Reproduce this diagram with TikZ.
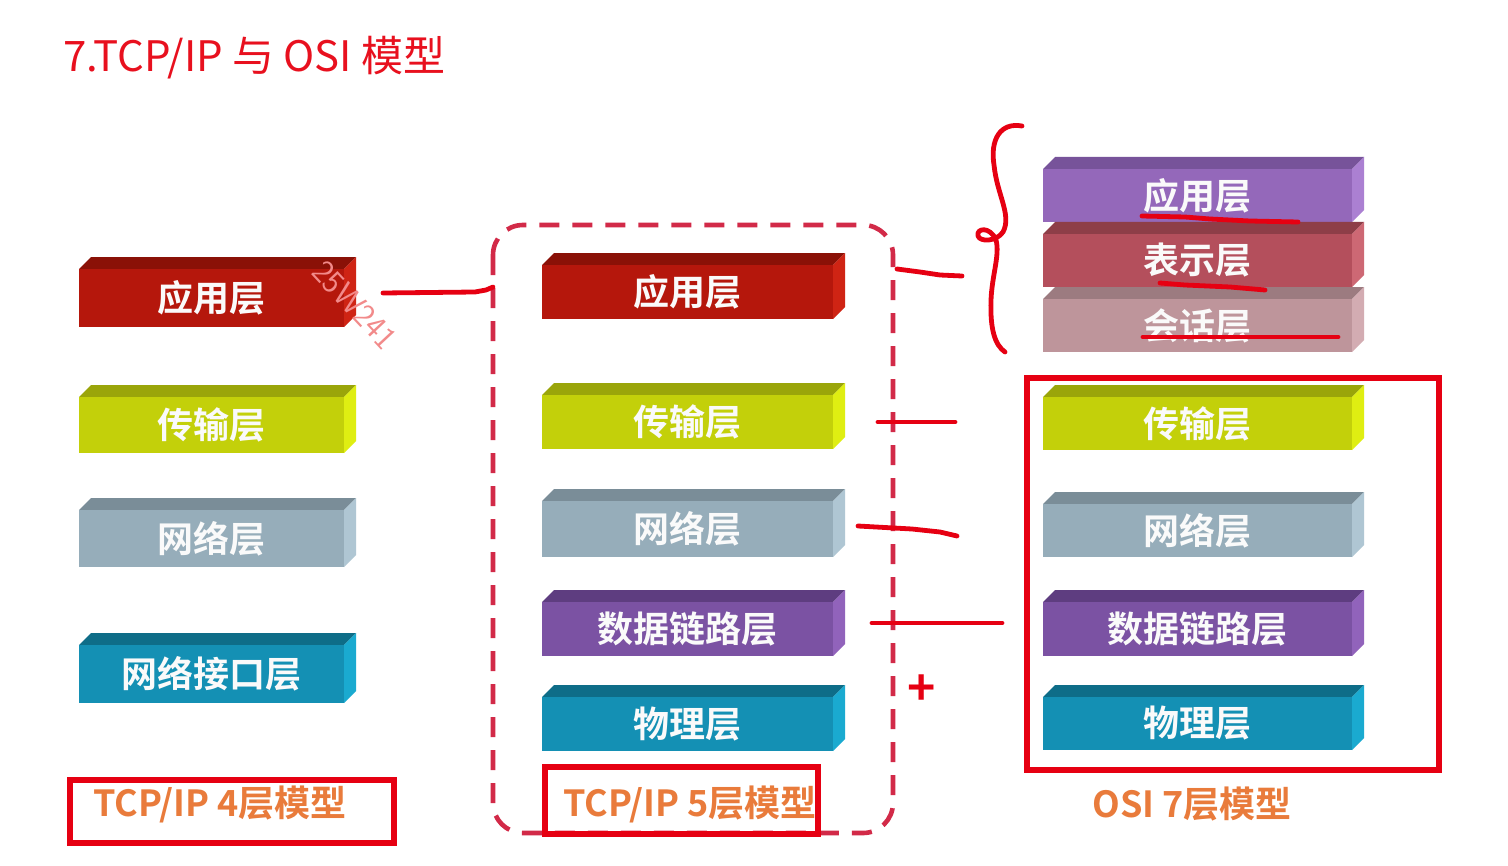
\documentclass[tikz,border=0pt]{standalone}
\usepackage{fontspec}
\newfontfamily\cjk{Noto Sans CJK SC}[BoldFont={Noto Sans CJK SC Bold}]
\definecolor{redF}{HTML}{B5170C}\definecolor{redT}{HTML}{8A1107}\definecolor{redS}{HTML}{CF2414}
\definecolor{ylF}{HTML}{C3D00A}\definecolor{ylT}{HTML}{9AA50A}\definecolor{ylS}{HTML}{DFEE12}
\definecolor{gyF}{HTML}{96ADBA}\definecolor{gyT}{HTML}{7A8D98}\definecolor{gyS}{HTML}{AFC6D3}
\definecolor{tlF}{HTML}{1490B4}\definecolor{tlT}{HTML}{0E6D88}\definecolor{tlS}{HTML}{1AAAD0}
\definecolor{puF}{HTML}{7B52A3}\definecolor{puT}{HTML}{5E3D80}\definecolor{puS}{HTML}{9163BB}
\definecolor{apF}{HTML}{9468BA}\definecolor{apT}{HTML}{77539A}\definecolor{apS}{HTML}{AB80D2}
\definecolor{prF}{HTML}{B44F5C}\definecolor{prT}{HTML}{8E3E48}\definecolor{prS}{HTML}{CD6874}
\definecolor{seF}{HTML}{BE959B}\definecolor{seT}{HTML}{9C7B80}\definecolor{seS}{HTML}{D3ACB2}
\definecolor{penred}{HTML}{E60012}
\definecolor{dashred}{HTML}{D22A48}
\definecolor{titlered}{HTML}{E8101E}
\definecolor{labelorange}{HTML}{E97B3B}
\definecolor{wmpink}{HTML}{F28A8A}
\newcommand\layerblk[7]{%
  \fill[#6T] (#2,#3+12) -- (#2+12,#3) -- (#4+12,#3) -- (#4,#3+12) -- cycle;
  \fill[#6S] (#4,#3+12) -- (#4+12,#3) -- (#4+12,#5-12) -- (#4,#5) -- cycle;
  \node[blockface, fill=#6F, minimum width={(#4-#2)*0.5pt}, minimum height={(#5-#3-12)*0.5pt}, anchor=north west] (#1) at (#2,#3+12) {#7};
}
\tikzset{
  blockface/.style={inner sep=0pt, outer sep=0pt, text=white!96!gray, font=\cjk\bfseries\fontsize{18pt}{20pt}\selectfont},
  modellabel/.style={inner sep=0pt, text=labelorange, font=\cjk\bfseries\fontsize{18pt}{20pt}\selectfont},
  redbox/.style={draw=penred, line width=3pt},
  dashbox/.style={draw=dashred, line width=2.3pt, dash pattern=on 10pt off 6.5pt, rounded corners=15pt},
  hand/.style={draw=penred, line width=2.4pt, line cap=round, line join=round},
}
\begin{document}
\begin{tikzpicture}[x=0.5pt, y=-0.5pt]
\useasboundingbox[fill=white] (0,0) rectangle (1508,866);

% title
\node[anchor=west, inner sep=0pt, text=titlered, font=\cjk\fontsize{21pt}{24pt}\selectfont] (title) at (63,58) {7.TCP/IP 与 OSI 模型};

% left column: TCP/IP 4
\layerblk{L1}{79}{257}{344}{327}{red}{应用层}
\layerblk{L2}{79}{385}{344}{453}{yl}{传输层}
\layerblk{L3}{79}{498}{344}{567}{gy}{网络层}
\layerblk{L4}{79}{633}{344}{703}{tl}{网络接口层}

% middle column: TCP/IP 5
\layerblk{M1}{542}{253}{833}{319}{red}{应用层}
\layerblk{M2}{542}{383}{833}{449}{yl}{传输层}
\layerblk{M3}{542}{489}{833}{557}{gy}{网络层}
\layerblk{M4}{542}{590}{833}{656}{pu}{数据链路层}
\layerblk{M5}{542}{685}{833}{751}{tl}{物理层}

% right column: OSI 7
\layerblk{R1}{1043}{157}{1352}{222}{ap}{应用层}
\layerblk{R2}{1043}{222}{1352}{287}{pr}{表示层}
\layerblk{R3}{1043}{287}{1352}{352}{se}{会话层}
\layerblk{R4}{1043}{385}{1352}{450}{yl}{传输层}
\layerblk{R5}{1043}{492}{1352}{557}{gy}{网络层}
\layerblk{R6}{1043}{590}{1352}{656}{pu}{数据链路层}
\layerblk{R7}{1043}{685}{1352}{750}{tl}{物理层}

% model labels
\node[modellabel] (lab4) at (220,804) {TCP/IP 4层模型};
\node[modellabel] (lab5) at (690,804) {TCP/IP 5层模型};
\node[modellabel] (lab7) at (1192,804) {OSI 7层模型};

% dashed group
\draw[dashbox] (493,225) rectangle (893,833);

% red boxes
\draw[redbox] (70,780) rectangle (394,843);
\draw[redbox] (545,767) rectangle (818,834);
\draw[redbox] (1027,378) rectangle (1439,770);

% hand-drawn annotations
\draw[hand] (383,293) -- (475,292) -- (486,290) -- (493,287);
\draw[hand] (897,269) -- (920,272) -- (940,275) -- (962,276);
\draw[hand] (878,422) -- (955,422);
\draw[hand] (858,526) -- (912,529) -- (940,532) -- (957,536);
\draw[hand] (872,623) -- (1002,623);
\draw[hand] (1142,216) -- (1185,217) -- (1210,219) -- (1250,221) -- (1298,222);
\draw[hand] (1160,283) -- (1185,285) -- (1230,287) -- (1265,290);
\draw[hand] (1143,337) -- (1338,337);
\draw[hand] (1022,126) .. controls (1000,122) and (990,140) .. (994,165)
  .. controls (997,195) and (1012,215) .. (1003,232)
  .. controls (996,242) and (980,242) .. (978,236)
  .. controls (976,228) and (990,226) .. (996,240)
  .. controls (1000,255) and (992,275) .. (991,300)
  .. controls (990,330) and (995,345) .. (1005,352);
\node[text=penred, inner sep=0pt, font=\cjk\bfseries\fontsize{24pt}{24pt}\selectfont] (plus) at (922,690) {+};

% watermark
\node[rotate=-47, text=wmpink, inner sep=0pt, font=\sffamily\fontsize{16.5pt}{16.5pt}\selectfont] (wm) at (355,305) {25W241};
\end{tikzpicture}
\end{document}
